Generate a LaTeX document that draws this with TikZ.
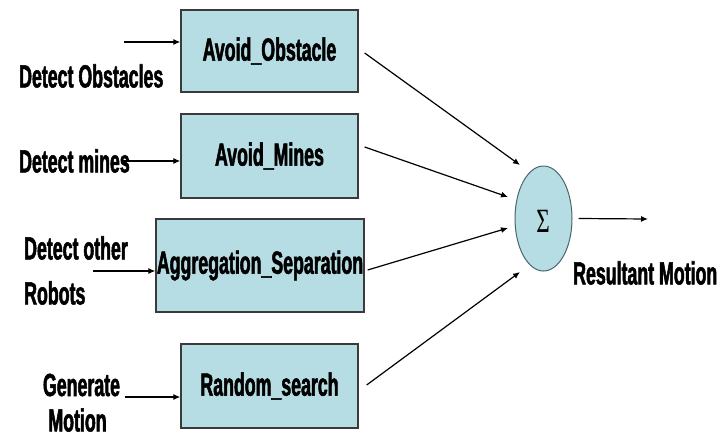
\documentclass[tikz,border=0pt]{standalone}
\usepackage{fontspec}
\usetikzlibrary{arrows.meta,shapes.geometric}
\newfontfamily\lblfont{Liberation Sans}[FakeStretch=0.555,
  BoldFeatures={FakeStretch=0.555,FakeBold=1.6}]
\newfontfamily\symfont{Liberation Serif}[FakeStretch=0.68]
\definecolor{boxfill}{HTML}{B6DDE3}
\definecolor{boxline}{HTML}{3A3A3A}
\definecolor{sumline}{HTML}{4A666C}
\tikzset{
  behaviour/.style={draw=boxline, line width=1.3pt, fill=boxfill, inner sep=0pt,
    font=\lblfont\bfseries\fontsize{32}{34}\selectfont},
  lbl/.style={inner sep=0pt, font=\lblfont\bfseries\fontsize{32}{34}\selectfont},
  arr/.style={line width=1.2pt, -{Latex[length=7pt,width=6pt]}},
}
\begin{document}
\begin{tikzpicture}[x=1pt,y=-1pt]
\useasboundingbox (0,0) rectangle (727,434);

% behaviour boxes
\node[behaviour, minimum width=177pt, minimum height=82pt] (b1) at (269.5,51) {Avoid\_Obstacle};
\node[behaviour, minimum width=177pt, minimum height=84pt] (b2) at (269.5,156) {Avoid\_Mines};
\node[behaviour, minimum width=208pt, minimum height=93pt] (b3) at (260,265.5) {Aggregation\_Separation};
\node[behaviour, minimum width=177pt, minimum height=84pt] (b4) at (269.5,386) {Random\_search};

% summing junction
\node[draw=sumline, line width=1pt, fill=boxfill, ellipse, minimum width=57pt,
      minimum height=105pt, inner sep=0pt] (sum) at (543.5,218.5) {};
\node[inner sep=0pt, font=\symfont\fontsize{34}{36}\selectfont] (sigma) at (543,221) {Σ};

% sensor labels
\node[lbl, anchor=west] (l1) at (19,76) {Detect Obstacles};
\node[lbl, anchor=west] (l2) at (19,161) {Detect mines};
\node[lbl, anchor=west] (l3a) at (24,248) {Detect other};
\node[lbl, anchor=west] (l3b) at (24,293) {Robots};
\node[lbl] (l4a) at (81.5,385) {Generate};
\node[lbl] (l4b) at (77.5,420) {Motion};
\node[lbl, anchor=west] (res) at (573,273) {Resultant Motion};

% input connectors
\coordinate (i1) at (124,42);
\coordinate (i2) at (123,161);
\coordinate (i3) at (93,271);
\coordinate (i4) at (125,397);
\draw[arr] (i1) -- ([yshift=9pt]b1.west);
\draw[arr] (i2) -- ([yshift=-5pt]b2.west);
\draw[arr] (i3) -- ([yshift=-5.5pt]b3.west);
\draw[arr] (i4) -- ([yshift=-11pt]b4.west);

% behaviour outputs into the sum
\coordinate (t1) at (520,165);
\coordinate (t2) at (508,197);
\coordinate (t3) at (508,228);
\coordinate (t4) at (520,272);
\draw[arr] ([xshift=6pt,yshift=-2pt]b1.east) -- (t1);
\draw[arr] ([xshift=6pt,yshift=9pt]b2.east) -- (t2);
\draw[arr] ([xshift=3pt,yshift=-4.5pt]b3.east) -- (t3);
\draw[arr] ([xshift=8pt,yshift=1pt]b4.east) -- (t4);

% resultant output
\coordinate (out) at (648,219);
\draw[arr] ([xshift=6pt]sum.east) -- (out);
\end{tikzpicture}
\end{document}
